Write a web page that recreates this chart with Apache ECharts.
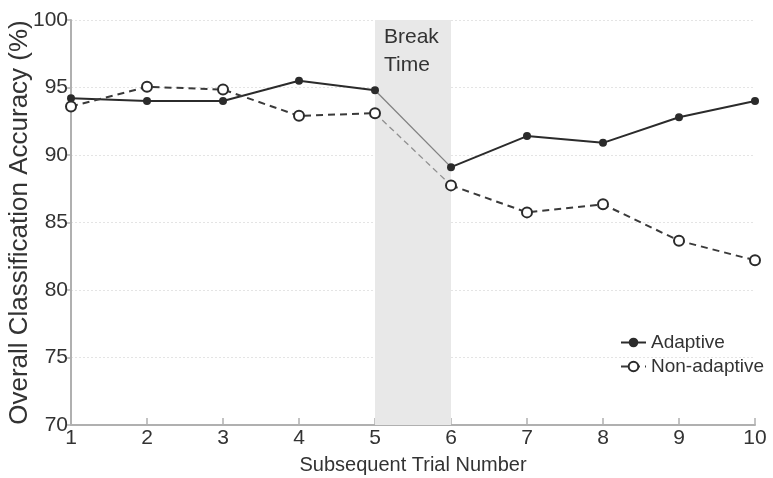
<!DOCTYPE html>
<html>
<head>
<meta charset="utf-8">
<script src="https://cdn.jsdelivr.net/npm/echarts@6/dist/echarts.min.js"></script>
<style>html,body{margin:0;padding:0;background:#fff;}#c{width:773px;height:478px;}</style>
</head>
<body>
<div id="c"></div>
<script>
const trials = [1, 2, 3, 4, 5, 6, 7, 8, 9, 10];
const adaptive = [94.2, 94.0, 94.0, 95.5, 94.8, 89.1, 91.4, 90.9, 92.8, 94.0];
const nonAdaptive = [93.6, 95.05, 94.85, 92.9, 93.1, 87.75, 85.75, 86.35, 83.65, 82.2];
const breakStart = 5;
const breakEnd = 6;
const breakLabel = 'Break\nTime';
const yTicks = [70, 75, 80, 85, 90, 95, 100];

const FONT = '"Liberation Sans", Arial, sans-serif';
const pts = v => trials.map((t, i) => [t, v[i]]);
const pre = v => pts(v).filter(p => p[0] <= breakStart);
const post = v => pts(v).filter(p => p[0] >= breakEnd);
const bridge = v => pts(v).filter(p => p[0] >= breakStart && p[0] <= breakEnd);

const lineCol = '#2b2b2b';
const solidStyle = { color: lineCol, width: 2, type: 'solid' };
const dashStyle = { color: '#3a3a3a', width: 2, type: [7, 5] };

function mainSeries(name, data, style, symbol, filled) {
  return {
    name: name, type: 'line', data: data, symbol: symbol, symbolSize: filled ? 8 : 10,
    lineStyle: style, z: 3,
    itemStyle: filled ? { color: lineCol } : { color: lineCol, borderColor: lineCol, borderWidth: 1.6 },
    emphasis: { disabled: true }
  };
}

const chart = echarts.init(document.getElementById('c'));
chart.setOption({
  animation: false,
  backgroundColor: '#fff',
  textStyle: { fontFamily: FONT },
  grid: { left: 71, right: 18, top: 20, bottom: 53, containLabel: false, outerBoundsMode: 'none' },
  xAxis: {
    type: 'value', min: 1, max: 10, interval: 1,
    name: 'Subsequent Trial Number', nameLocation: 'middle', nameGap: 30, nameMoveOverlap: false,
    nameTextStyle: { fontSize: 20, color: '#333', fontFamily: FONT },
    axisLine: { lineStyle: { color: '#b0b0b0', width: 2 } },
    axisTick: { show: true, inside: true, length: 7, lineStyle: { color: '#b0b0b0', width: 1.5 } },
    axisLabel: { fontSize: 21, color: '#333', margin: 3, fontFamily: FONT },
    splitLine: { show: false }
  },
  yAxis: {
    type: 'value', min: 70, max: 100, interval: 5,
    name: 'Overall Classification Accuracy (%)', nameLocation: 'middle', nameGap: 38, nameMoveOverlap: false,
    nameTextStyle: { fontSize: 26, color: '#333', fontFamily: FONT },
    axisLine: { show: true, lineStyle: { color: '#b0b0b0', width: 2 } },
    axisTick: { show: true, length: 4, lineStyle: { color: '#b0b0b0', width: 1.5 } },
    axisLabel: { fontSize: 21, color: '#333', margin: 3, fontFamily: FONT,
      formatter: v => yTicks.includes(v) ? String(v) : '' },
    splitLine: { show: true, lineStyle: { color: '#e4e4e4', type: [2, 2], width: 1 } }
  },
  legend: {
    data: ['Adaptive', 'Non-adaptive'],
    orient: 'vertical', left: 615, top: 328, itemGap: 5,
    itemWidth: 25, itemHeight: 12,
    textStyle: { fontSize: 19, color: '#333', fontFamily: FONT }
  },
  series: [
    mainSeries('Adaptive', pre(adaptive), solidStyle, 'circle', true),
    mainSeries('Adaptive', post(adaptive), solidStyle, 'circle', true),
    mainSeries('Non-adaptive', pre(nonAdaptive), dashStyle, 'emptyCircle', false),
    mainSeries('Non-adaptive', post(nonAdaptive), dashStyle, 'emptyCircle', false),
    {
      type: 'line', data: bridge(adaptive), symbol: 'none', z: 2,
      lineStyle: { color: '#808080', width: 1.3 }, emphasis: { disabled: true },
      markArea: {
        silent: true,
        itemStyle: { color: '#e8e8e8' },
        label: { show: true, position: 'insideTopLeft', distance: 0, padding: [3, 0, 0, 9], fontSize: 21, lineHeight: 28, color: '#333', fontFamily: FONT },
        data: [[{ xAxis: breakStart, name: breakLabel }, { xAxis: breakEnd }]]
      }
    },
    { type: 'line', data: bridge(nonAdaptive), symbol: 'none', z: 2, lineStyle: { color: '#909090', width: 1.3, type: [6, 4] }, emphasis: { disabled: true } }
  ]
});
</script>
</body>
</html>
